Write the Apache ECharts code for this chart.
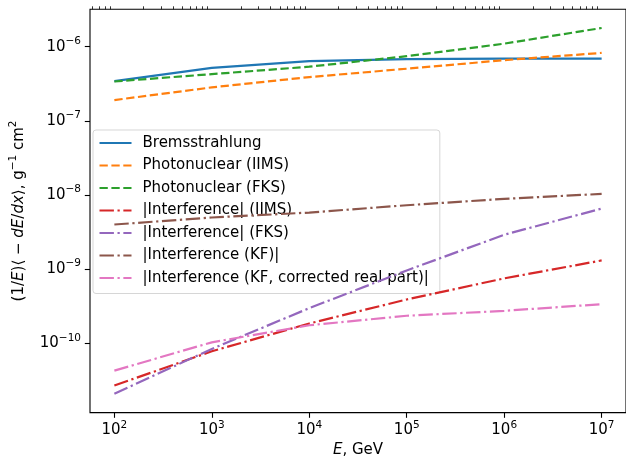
<!DOCTYPE html>
<html>
<head>
<meta charset="utf-8">
<script src="https://cdn.jsdelivr.net/npm/echarts@6/dist/echarts.min.js"></script>
<style>
html, body { margin: 0; padding: 0; background: #fff; }
#main { width: 626px; height: 463px; }
</style>
</head>
<body>
<div id="main"></div>
<script>
// data (E in GeV, value in g^-1 cm^2)
var energies = [1e2, 1e3, 1e4, 1e5, 1e6, 1e7];
var brems = [3.44e-7, 5.19e-7, 6.38e-7, 6.8e-7, 6.9e-7, 6.93e-7];
var photoIIMS = [1.91e-7, 2.83e-7, 3.9e-7, 5.05e-7, 6.59e-7, 8.26e-7];
var photoFKS = [3.4e-7, 4.27e-7, 5.38e-7, 7.45e-7, 1.10e-6, 1.79e-6];
var interfIIMS = [2.69e-11, 7.8e-11, 1.85e-10, 3.9e-10, 7.5e-10, 1.31e-9];
var interfFKS = [2.08e-11, 8.4e-11, 2.98e-10, 9.6e-10, 2.91e-9, 6.56e-9];
var interfKF = [4.0e-9, 4.97e-9, 5.8e-9, 7.28e-9, 8.87e-9, 1.035e-8];
var interfKFcorr = [4.28e-11, 1.03e-10, 1.75e-10, 2.35e-10, 2.74e-10, 3.37e-10];

var seriesNames = [
    'Bremsstrahlung',
    'Photonuclear (IIMS)',
    'Photonuclear (FKS)',
    '|Interference| (IIMS)',
    '|Interference| (FKS)',
    '|Interference (KF)|',
    '|Interference (KF, corrected real part)|'
];

// tick labels
var xMajor = [1e2, 1e3, 1e4, 1e5, 1e6, 1e7];
var yMajor = [1e-10, 1e-9, 1e-8, 1e-7, 1e-6];

var xMin = Math.pow(10, 1.75), xMax = Math.pow(10, 7.25);
var yMin = Math.pow(10, -10.935), yMax = Math.pow(10, -5.495);

function minorTicks(lo, hi, from, to) {
    var out = [];
    for (var e = from; e <= to; e++) {
        for (var m = 2; m <= 9; m++) {
            var v = m * Math.pow(10, e);
            if (v >= lo && v <= hi) out.push(v);
        }
    }
    return out;
}

function pairs(xs, ys) {
    return xs.map(function (x, i) { return [x, ys[i]]; });
}

function powLabel(v) {
    var e = Math.round(Math.log10(v));
    return '{b|10}{s|' + String(e).replace('-', '\u2212') + '}';
}

var font = 'DejaVu Sans';
var labelRich = {
    b: { fontSize: 15, fontFamily: font, color: '#000' },
    s: { fontSize: 10.5, fontFamily: font, color: '#000', padding: [0, 0, 11, 0] }
};

var colors = ['#1f77b4', '#ff7f0e', '#2ca02c', '#d62728', '#9467bd', '#8c564b', '#e377c2'];
var dashed = [8.3, 3.6];
var dashDot = [14.4, 3.6, 2.25, 3.6];
var styles = ['solid', dashed, dashed, dashDot, dashDot, dashDot, dashDot];
var values = [brems, photoIIMS, photoFKS, interfIIMS, interfFKS, interfKF, interfKFcorr];

var myChart = echarts.init(document.getElementById('main'));

var series = values.map(function (ys, i) {
    return {
        name: seriesNames[i],
        type: 'line',
        xAxisIndex: 0,
        yAxisIndex: 0,
        data: pairs(energies, ys),
        symbol: 'none',
        showSymbol: false,
        color: colors[i],
        lineStyle: { color: colors[i], width: 2.2, type: styles[i] },
        z: 2 + i
    };
});

var option = {
    animation: false,
    textStyle: { fontFamily: font },
    grid: {
        left: 86.7, right: -3.7, top: 9.3, bottom: 49,
        show: true, borderColor: '#000', borderWidth: 1.1
    },
    legend: {
        orient: 'vertical',
        left: 93, top: 130,
        padding: [5.5, 11, 8, 5.5],
        itemWidth: 32, itemHeight: 15, itemGap: 7.5,
        backgroundColor: 'rgba(255,255,255,0.8)',
        borderColor: 'rgba(204,204,204,0.8)',
        borderWidth: 1, borderRadius: 3,
        itemStyle: { opacity: 0 },
        textStyle: { fontSize: 15, fontFamily: font, color: '#000', padding: [0, 0, 0, 6] },
        data: seriesNames
    },
    xAxis: [{
        type: 'log', min: xMin, max: xMax,
        name: '{i|E}{n|, GeV}',
        nameLocation: 'middle', nameGap: 28,
        nameTextStyle: {
            rich: {
                i: { fontSize: 15, fontFamily: font, fontStyle: 'italic', color: '#000' },
                n: { fontSize: 15, fontFamily: font, color: '#000' }
            }
        },
        axisLine: { show: false },
        splitLine: { show: false },
        axisTick: { customValues: xMajor, length: 5.2, lineStyle: { color: '#000', width: 1.1 } },
        axisLabel: { customValues: xMajor, margin: 7, formatter: powLabel, rich: labelRich }
    }, {
        type: 'log', min: xMin, max: xMax,
        axisLine: { show: false },
        splitLine: { show: false },
        axisLabel: { show: false },
        axisTick: { customValues: minorTicks(xMin, xMax, 1, 7), length: 3, lineStyle: { color: '#000', width: 0.8 } }
    }],
    yAxis: [{
        type: 'log', min: yMin, max: yMax,
        name: '{n|(1/}{i|E}{n|)\u27e8 \u2212 }{i|dE}{n|/}{i|dx}{n|\u27e9, g}{s|\u22121}{n| cm}{s|2}',
        nameLocation: 'middle', nameGap: 60,
        nameTextStyle: {
            rich: {
                i: { fontSize: 15, fontFamily: font, fontStyle: 'italic', color: '#000' },
                n: { fontSize: 15, fontFamily: font, color: '#000' },
                s: { fontSize: 10.5, fontFamily: font, color: '#000', padding: [0, 0, 11, 0] }
            }
        },
        axisLine: { show: false },
        splitLine: { show: false },
        axisTick: { customValues: yMajor, length: 5.2, lineStyle: { color: '#000', width: 1.1 } },
        axisLabel: { customValues: yMajor, margin: 9, formatter: powLabel, rich: labelRich }
    }, {
        type: 'log', min: yMin, max: yMax,
        axisLine: { show: false },
        splitLine: { show: false },
        axisLabel: { show: false },
        axisTick: { customValues: minorTicks(yMin, yMax, -11, -6), length: 3, lineStyle: { color: '#000', width: 0.8 } }
    }],
    series: series
};

myChart.setOption(option);
</script>
</body>
</html>
